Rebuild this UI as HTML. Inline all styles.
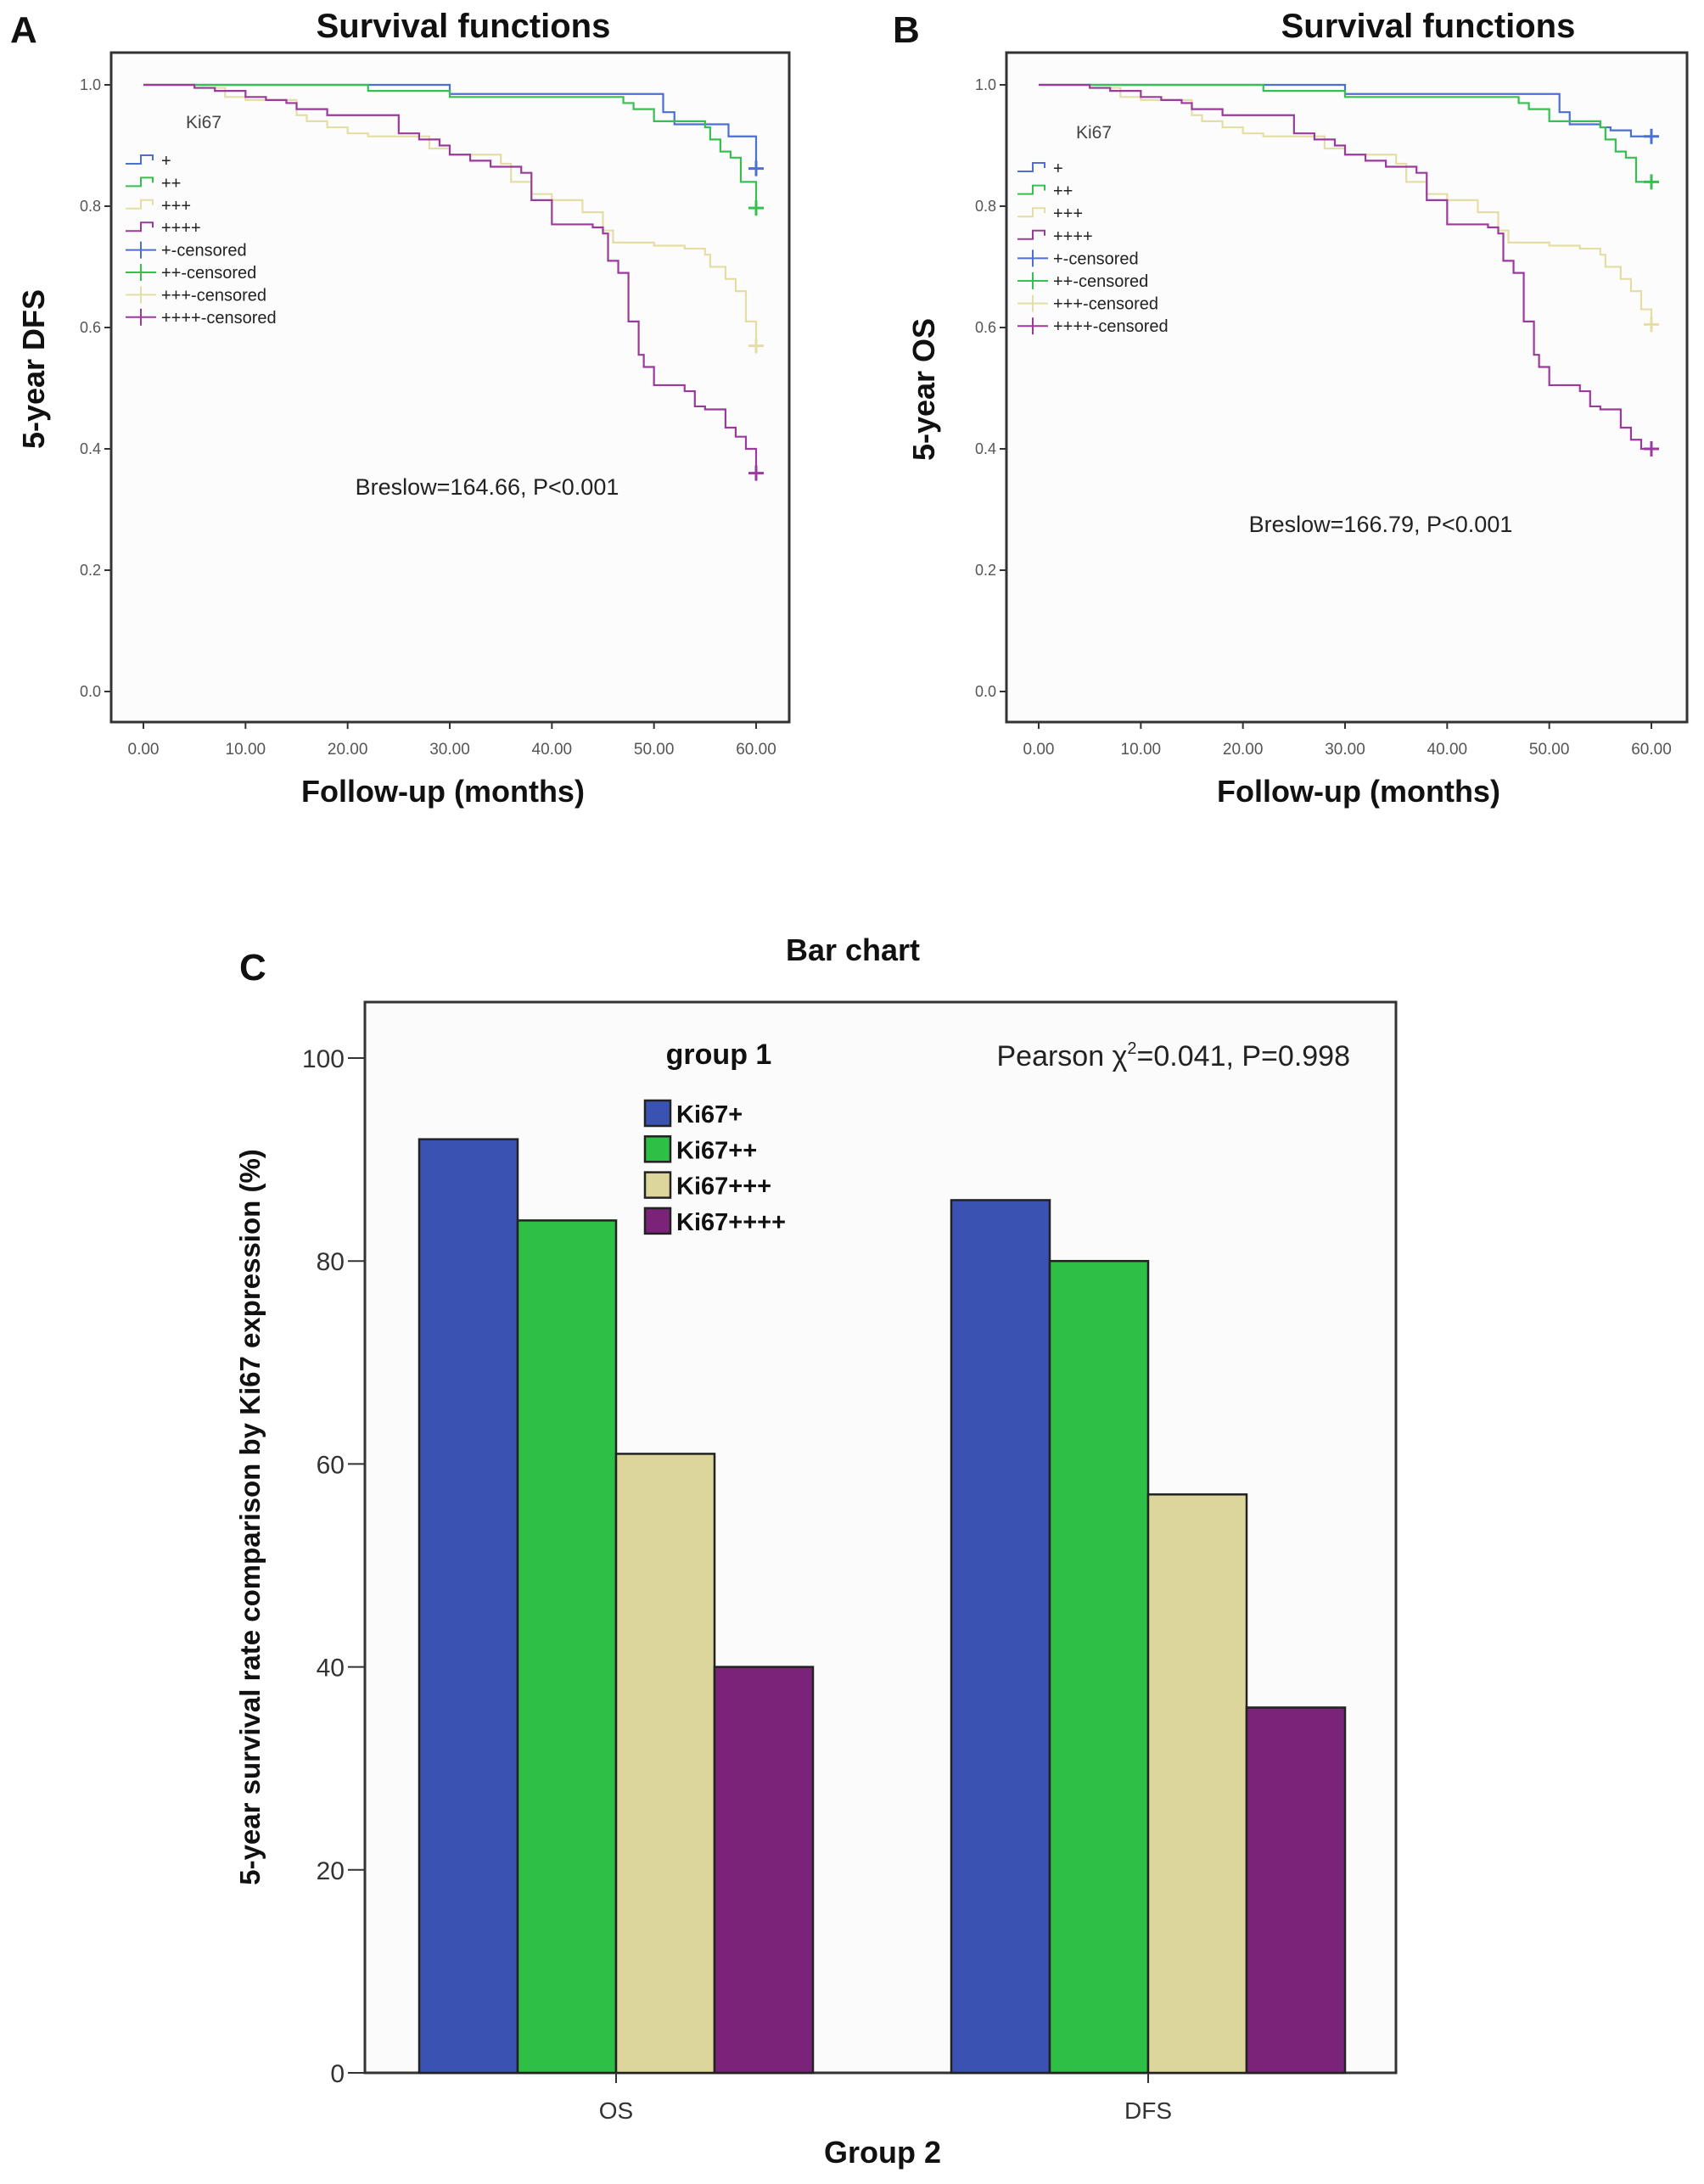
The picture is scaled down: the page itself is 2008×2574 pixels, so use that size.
<!DOCTYPE html>
<html><head><meta charset="utf-8"><style>
html,body{margin:0;padding:0;background:#fff;}
svg{display:block;font-family:"Liberation Sans",sans-serif;}
</style></head><body>
<svg id="root" width="2008" height="2574" viewBox="0 0 2008 2574" xmlns="http://www.w3.org/2000/svg"></svg>
<script>
// ---- Survival data (time, survival) ----
const dfsBlue=[[0,1],[30,0.985],[50.9,0.955],[52,0.935],[57.3,0.915],[60,0.862]];
const dfsGreen=[[0,1],[22,0.99],[30,0.98],[47,0.97],[48,0.96],[50,0.94],[52.5,0.94],[55,0.93],[55.5,0.91],[56.5,0.89],[57.5,0.88],[58.5,0.84],[60,0.797]];
const dfsTan=[[0,1],[5,0.995],[8,0.98],[10,0.975],[15,0.95],[16,0.94],[18,0.93],[20,0.92],[22,0.915],[28,0.895],[30,0.885],[35,0.87],[36,0.84],[38,0.82],[40,0.81],[43,0.79],[45,0.76],[46,0.74],[50,0.735],[53,0.73],[55,0.72],[55.5,0.70],[57,0.68],[58,0.66],[59,0.61],[60,0.57]];
const dfsPurple=[[0,1],[5,0.995],[7,0.99],[10,0.98],[12,0.975],[14,0.97],[15,0.96],[18,0.95],[25,0.92],[27,0.91],[29,0.90],[30,0.885],[32,0.875],[34,0.865],[37,0.855],[38,0.81],[40,0.77],[44,0.765],[45,0.755],[45.5,0.71],[46.5,0.69],[47.5,0.61],[48.5,0.555],[49,0.535],[50,0.505],[53,0.495],[54,0.47],[55,0.465],[57,0.435],[58,0.42],[59,0.40],[60,0.36]];
const osBlue=[[0,1],[30,0.985],[51,0.955],[52,0.935],[55,0.93],[56,0.925],[58,0.915],[60,0.915]];
const osGreen=[[0,1],[22,0.99],[30,0.98],[47,0.97],[48,0.96],[50,0.94],[52.5,0.94],[55,0.93],[55.5,0.91],[56.5,0.89],[57.5,0.88],[58.5,0.84],[60,0.84]];
const osTan=[[0,1],[5,0.995],[8,0.98],[10,0.975],[15,0.95],[16,0.94],[18,0.93],[20,0.92],[22,0.915],[28,0.895],[30,0.885],[35,0.87],[36,0.84],[38,0.82],[40,0.81],[43,0.79],[45,0.76],[46,0.74],[50,0.735],[53,0.73],[55,0.72],[55.5,0.70],[57,0.68],[58,0.66],[59,0.63],[60,0.605]];
const osPurple=[[0,1],[5,0.995],[7,0.99],[10,0.98],[12,0.975],[14,0.97],[15,0.96],[18,0.95],[25,0.92],[27,0.91],[29,0.90],[30,0.885],[32,0.875],[34,0.865],[37,0.855],[38,0.81],[40,0.77],[44,0.765],[45,0.755],[45.5,0.71],[46.5,0.69],[47.5,0.61],[48.5,0.555],[49,0.535],[50,0.505],[53,0.495],[54,0.47],[55,0.465],[57,0.435],[58,0.415],[59,0.40],[60,0.40]];
const survXTicks=[0,10,20,30,40,50,60];
const survYTicks=[0,0.2,0.4,0.6,0.8,1.0];
const legendLabels=["+","++","+++","++++","+-censored","++-censored","+++-censored","++++-censored"];
// ---- Bar data ----
const barGroups=["OS","DFS"];
const barSeries=["Ki67+","Ki67++","Ki67+++","Ki67++++"];
const barOS=[92,84,61,40];
const barDFS=[86,80,57,36];
const barYTicks=[0,20,40,60,80,100];

const NS="http://www.w3.org/2000/svg";
const root=document.getElementById('root');
function el(tag,attrs,parent,text){const e=document.createElementNS(NS,tag);for(const k in attrs)e.setAttribute(k,attrs[k]);if(text!==undefined)e.textContent=text;(parent||root).appendChild(e);return e;}

const curveCols=["#4b6fd2","#35c050","#e4dea4","#9a3a9c"];

function survPanel(cfg){
  const g=el('g',{});
  
  
  const X=t=>cfg.x0+(cfg.x60-cfg.x0)*t/60;
  const Y=s=>815-(815-100)*s;
  const bg=el('rect',{x:cfg.left,y:62,width:cfg.right-cfg.left,height:789,fill:'#fcfcfc',stroke:'#333','stroke-width':3},g);
  
  const lt=el('text',{x:cfg.letterX,y:50,'font-size':44,'font-weight':'bold',fill:'#111'},g,cfg.letter);
  
  const tt=el('text',{x:cfg.titleX,y:44,'font-size':40,'font-weight':'bold','text-anchor':'middle',fill:'#111'},g,'Survival functions');
  
  survYTicks.forEach(v=>{
    el('line',{x1:cfg.left-8,x2:cfg.left,y1:Y(v),y2:Y(v),stroke:'#333','stroke-width':2},g);
    const t=el('text',{x:cfg.left-12,y:Y(v)+6,'font-size':18,'text-anchor':'end',fill:'#555'},g,v.toFixed(1));
    
  });
  survXTicks.forEach(v=>{
    el('line',{x1:X(v),x2:X(v),y1:851,y2:859,stroke:'#333','stroke-width':2},g);
    const t=el('text',{x:X(v),y:889,'font-size':19,'text-anchor':'middle',fill:'#555'},g,v.toFixed(2));
    
  });
  const yl=el('text',{x:0,y:0,'font-size':36,'font-weight':'bold','text-anchor':'middle',fill:'#111',transform:`translate(${cfg.ylabX},${cfg.ylabY}) rotate(-90)`},g,cfg.ylabel);
  
  const xl=el('text',{x:cfg.xlabX,y:945,'font-size':36,'font-weight':'bold','text-anchor':'middle',fill:'#111'},g,'Follow-up (months)');
  
  cfg.curves.forEach((c,i)=>{
    let d='M'+X(c[0][0])+','+Y(c[0][1]);
    for(let k=1;k<c.length;k++){d+=' H'+X(c[k][0])+' V'+Y(c[k][1]);}
    const p=el('path',{d:d,fill:'none',stroke:curveCols[i],'stroke-width':2.2},g);
    
    const last=c[c.length-1];
    const cm=el('path',{d:`M${X(last[0])-9},${Y(last[1])} h18 M${X(last[0])},${Y(last[1])-9} v18`,stroke:curveCols[i],'stroke-width':3},g);
    
  });
  const br=el('text',{x:cfg.brX,y:cfg.brY,'font-size':27,'text-anchor':'middle',fill:'#222'},g,cfg.breslow);
  
  const lg=el('g',{},g);
  
  el('text',{x:cfg.kiX,y:cfg.kiY+7,'font-size':21,'text-anchor':'middle',fill:'#444'},lg,'Ki67');
  legendLabels.forEach((lab,i)=>{
    const y=cfg.legY+i*cfg.legDy;
    const col=curveCols[i%4];
    if(i<4){el('path',{d:`M${cfg.legX},${y+4} h18 v-10 h14 v6`,fill:'none',stroke:col,'stroke-width':2},lg);}
    else{el('path',{d:`M${cfg.legX},${y} h36 M${cfg.legX+18},${y-10} v20`,stroke:col,'stroke-width':2},lg);}
    const t=el('text',{x:cfg.legX+42,y:y+7,'font-size':20,fill:'#222'},lg,lab);
    
  });
}
survPanel({name:'panel-a-dfs',left:131,right:930,x0:169,x60:891,letter:'A',letterX:12,titleX:546,ylabX:52,ylabY:435,ylabel:'5-year DFS',xlabX:522,brX:574,brY:583,breslow:'Breslow=164.66, P<0.001',kiX:240,kiY:144,legX:148,legY:189,legDy:26.4,curves:[dfsBlue,dfsGreen,dfsTan,dfsPurple]});
survPanel({name:'panel-b-os',left:1186,right:1988,x0:1224,x60:1946,letter:'B',letterX:1052,titleX:1683,ylabX:1101,ylabY:459,ylabel:'5-year OS',xlabX:1601,brX:1627,brY:627,breslow:'Breslow=166.79, P<0.001',kiX:1289,kiY:156,legX:1199,legY:198,legDy:26.6,curves:[osBlue,osGreen,osTan,osPurple]});

// ---- Bar chart ----
(function(){
  const g=el('g',{});
  
  const L=430,R=1645,T=1181,B=2443;
  const Y=v=>B-(B-1247)*v/100;
  const bg=el('rect',{x:L,y:T,width:R-L,height:B-T,fill:'#fbfbfb',stroke:'#333','stroke-width':3},g);
  
  const c=el('text',{x:282,y:1155,'font-size':44,'font-weight':'bold',fill:'#111'},g,'C');
  
  const tt=el('text',{x:1005,y:1132,'font-size':36,'font-weight':'bold','text-anchor':'middle',fill:'#111'},g,'Bar chart');
  
  barYTicks.forEach(v=>{
    el('line',{x1:L-20,x2:L,y1:Y(v),y2:Y(v),stroke:'#333','stroke-width':2},g);
    const t=el('text',{x:L-24,y:Y(v)+11,'font-size':30,'text-anchor':'end',fill:'#333'},g,String(v));
    
  });
  const cols=["#3a53b3","#2dbf46","#ddd69c","#7a2378"];
  const bw=116;
  const centers=[726,1353];
  const vals=[barOS,barDFS];
  barGroups.forEach((grp,gi)=>{
    const cx=centers[gi];
    vals[gi].forEach((v,si)=>{
      const x=cx-2*bw+si*bw;
      const r=el('rect',{x:x,y:Y(v),width:bw,height:B-Y(v),fill:cols[si],stroke:'#222','stroke-width':2.5},g);
      
    });
    el('line',{x1:cx,x2:cx,y1:B,y2:B+12,stroke:'#333','stroke-width':2},g);
    const t=el('text',{x:cx,y:B+54,'font-size':28,'text-anchor':'middle',fill:'#333'},g,grp);
    
  });
  const yl=el('text',{x:0,y:0,'font-size':33,'font-weight':'bold','text-anchor':'middle',fill:'#111',transform:'translate(306,1788) rotate(-90)'},g,'5-year survival rate comparison by Ki67 expression (%)');
  
  const xl=el('text',{x:1040,y:2549,'font-size':36,'font-weight':'bold','text-anchor':'middle',fill:'#111'},g,'Group 2');
  
  const ps=el('text',{x:1591,y:1256,'font-size':34,'text-anchor':'end',fill:'#222'},g);
  
  ps.innerHTML='Pearson χ<tspan font-size="20" dy="-14">2</tspan><tspan dy="14">=0.041, P=0.998</tspan>';
  const lg=el('g',{},g);
  
  el('text',{x:847,y:1254,'font-size':34,'font-weight':'bold','text-anchor':'middle',fill:'#111'},lg,'group 1');
  barSeries.forEach((s,i)=>{
    const y=1312+i*42.3;
    el('rect',{x:760,y:y-15,width:30,height:30,fill:cols[i],stroke:'#222','stroke-width':2.5},lg);
    const t=el('text',{x:797,y:y+11,'font-size':29,'font-weight':'bold',fill:'#111'},lg,s);
    
  });
})();
</script>
</body></html>
